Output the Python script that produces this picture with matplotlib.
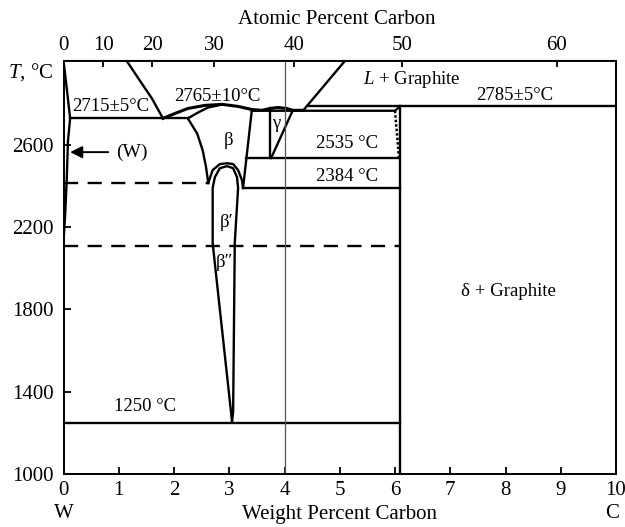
import numpy as np
import matplotlib
matplotlib.use("Agg")
import matplotlib.pyplot as plt

plt.rcParams['font.family'] = ['Liberation Serif', 'DejaVu Serif']
plt.rcParams['mathtext.fontset'] = 'custom'
plt.rcParams['mathtext.rm'] = 'Liberation Serif'
plt.rcParams['mathtext.it'] = 'Liberation Serif:italic'

# ---------------- data (weight % C, temperature degC) ----------------
x_ticks = [0, 1, 2, 3, 4, 5, 6, 7, 8, 9, 10]
y_ticks = [1000, 1400, 1800, 2200, 2600]
at_ticks = [0, 10, 20, 30, 40, 50, 60]

# W solidus / solvus (left)
w_sol_x = [0.0, 0.06, 0.12, 0.08, 0.06, 0.03, 0.0]
w_sol_t = [3008, 2870, 2727, 2615, 2440, 2260, 2130]
# W-side liquidus
liqW_x = [1.14, 1.38, 1.60, 1.80]
liqW_t = [3008, 2911, 2824, 2727]
# top liquidus curve over beta / gamma
liq_x = [1.80, 2.02, 2.25, 2.56, 2.87, 3.16, 3.41, 3.59, 3.74, 3.88, 4.04, 4.15, 4.34]
liq_t = [2727, 2751, 2775, 2790, 2795, 2785, 2770, 2766, 2775, 2780, 2775, 2766, 2766]
# C-side liquidus
liqC_x = [4.34, 5.10]
liqC_t = [2766, 3008]
# beta solidus (upper left)
bsol_x = [2.25, 2.44, 2.62, 2.80, 2.87]
bsol_t = [2727, 2756, 2780, 2790, 2795]
# beta left boundary below eutectic
bleft_x = [2.25, 2.42, 2.52, 2.58, 2.62]
bleft_t = [2727, 2653, 2571, 2490, 2413]
# beta right boundary
bright_x = [3.41, 3.25]
bright_t = [2770, 2389]
# outer dome
dome_o_x = [2.62, 2.70, 2.83, 2.96, 3.07, 3.16, 3.23, 3.25]
dome_o_t = [2413, 2476, 2505, 2509, 2505, 2476, 2427, 2389]
# inner dome with beta' / beta'' boundaries
bp_x = [3.05, 2.70, 2.70, 2.74, 2.83, 2.96, 3.07, 3.14, 3.16, 3.10, 3.07, 3.05]
bp_t = [1256, 2120, 2389, 2442, 2485, 2495, 2485, 2442, 2389, 2122, 1300, 1256]
# gamma region
gl_x = [3.74, 3.74]
gl_t = [2775, 2535]
gr_x = [4.15, 3.76]
gr_t = [2766, 2535]
# isotherms
iso_2715 = (0.12, 2.25, 2727)
iso_2785 = (4.41, 10.0, 2785)
iso_2535 = (3.31, 6.07, 2535)
iso_2384 = (3.25, 6.09, 2389)
iso_1250 = (0.0, 6.09, 1250)
box_top_x = [3.41, 6.00, 6.09]
box_top_t = [2764, 2764, 2785]
wc_x = [6.09, 6.09]
wc_t = [2785, 1000]
dash_2400 = (0.0, 2.62, 2413)
dash_2100 = (0.0, 6.09, 2108)
dot_x = [6.00, 6.07]
dot_t = [2764, 2540]

labels = [
    ("2715±5°C", 0.85, 2784),
    ("2765±10°C", 2.79, 2833),
    ("β", 2.98, 2620),
    ("γ", 3.85, 2703),
    ("2535 °C", 5.13, 2606),
    ("2384 °C", 5.13, 2447),
    ("$L$ + Graphite", 6.31, 2916),
    ("2785±5°C", 8.17, 2838),
    ("β′", 2.96, 2223),
    ("β″", 2.92, 2029),
    ("1250 °C", 1.48, 1329),
    ("δ + Graphite", 8.05, 1887),
]

# ---------------- figure ----------------
W, H = 625, 527
fig = plt.figure(figsize=(W / 100, H / 100), dpi=100)
L, R, T, B = 63.5, 616, 60.5, 474
ax = fig.add_axes([L / W, 1 - B / H, (R - L) / W, (B - T) / H])
ax.set_xlim(0, 10)
ax.set_ylim(1000, 3008)

lw = 1.7
k = 'black'
ax.plot(w_sol_x, w_sol_t, color=k, lw=lw)
ax.plot(liqW_x, liqW_t, color=k, lw=lw)
ax.plot(liq_x, liq_t, color=k, lw=2.2)
ax.plot(liqC_x, liqC_t, color=k, lw=lw)
ax.plot(bsol_x, bsol_t, color=k, lw=lw)
ax.plot(bleft_x, bleft_t, color=k, lw=lw)
ax.plot(bright_x, bright_t, color=k, lw=lw)
ax.plot(dome_o_x, dome_o_t, color=k, lw=lw)
ax.plot(bp_x, bp_t, color=k, lw=lw)
ax.plot(gl_x, gl_t, color=k, lw=lw)
ax.plot(gr_x, gr_t, color=k, lw=lw)
for x0, x1, t in (iso_2715, iso_2785, iso_2535, iso_2384, iso_1250):
    ax.plot([x0, x1], [t, t], color=k, lw=lw)
ax.plot(box_top_x, box_top_t, color=k, lw=lw)
ax.plot(wc_x, wc_t, color=k, lw=lw)
for x0, x1, t in (dash_2400, dash_2100):
    ax.plot([x0, x1], [t, t], color=k, lw=lw, linestyle=(0, (6, 4)))
ax.plot(dot_x, dot_t, color=k, lw=1.8, linestyle=(0, (1, 0.8)))
ax.axvline(4.0, color='#555555', lw=0.9)

# arrow (W)
ax.annotate("", xy=(0.12, 2563), xytext=(0.81, 2563),
            arrowprops=dict(arrowstyle='-|>', color=k, lw=1.4,
                            mutation_scale=18, shrinkA=0, shrinkB=0))
ax.text(1.24, 2563, "(W)", ha='center', va='center', fontsize=14)

for s, x, t in labels:
    ax.text(x, t, s, ha='center', va='center', fontsize=13.5)

# axes styling
for sp in ax.spines.values():
    sp.set_linewidth(1.4)
ax.set_xticks(x_ticks)
ax.set_xticklabels([str(v) for v in x_ticks])
ax.set_yticks(y_ticks)
ax.set_yticklabels([str(v) for v in y_ticks])
ax.tick_params(direction='in', length=5, width=1.3, labelsize=15)
ax.tick_params(axis='x', pad=5)
ax.tick_params(axis='y', pad=7)


def wt_to_at(w):
    w = np.asarray(w, dtype=float)
    c = w / 12.011
    m = (100 - w) / 183.84
    return 100 * c / (c + m)


def at_to_wt(a):
    a = np.asarray(a, dtype=float)
    c = 12.011 * a
    m = 183.84 * (100 - a)
    return 100 * c / (c + m)


sec = ax.secondary_xaxis('top', functions=(wt_to_at, at_to_wt))
sec.set_xticks(at_ticks)
sec.set_xticklabels([str(v) for v in at_ticks])
sec.tick_params(direction='in', length=5, width=1.3, labelsize=15, pad=4)

fig.text(53 / W, 1 - 72 / H, "$T$, °C", ha='right', va='center', fontsize=15)
fig.text(337 / W, 1 - 20 / H, "Atomic Percent Carbon", ha='center', va='center', fontsize=15)
fig.text(340 / W, 1 - 514 / H, "Weight Percent Carbon", ha='center', va='center', fontsize=15)
fig.text(64 / W, 1 - 514 / H, "W", ha='center', va='center', fontsize=15)
fig.text(612 / W, 1 - 514 / H, "C", ha='center', va='center', fontsize=15)

fig.savefig("out.png", dpi=100)
